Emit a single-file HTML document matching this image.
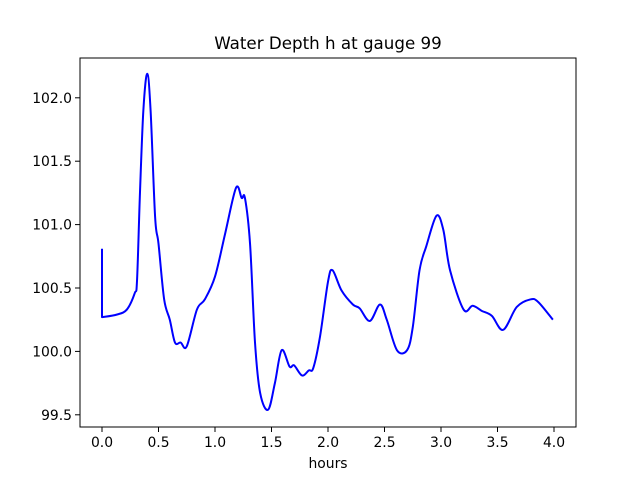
<!DOCTYPE html>
<html><head><meta charset="utf-8"><style>
body{margin:0;background:#fff;}
svg{display:block;font-family:"DejaVu Sans","Liberation Sans",sans-serif;}
</style></head><body>
<svg id="chart" width="640" height="480">
<rect width="640" height="480" fill="#fff"/>
<text x="328" y="49" font-size="16.7" text-anchor="middle">Water Depth h at gauge 99</text>
<g id="axes"></g>
<text x="328" y="468" font-size="13.9" text-anchor="middle">hours</text>
</svg>
<script>
const hours=[0,0,0.13,0.22,0.29,0.31,0.336,0.366,0.40,0.43,0.47,0.50,0.55,0.60,0.646,0.696,0.75,0.84,0.91,1.0,1.09,1.186,1.236,1.265,1.31,1.354,1.40,1.47,1.53,1.59,1.66,1.70,1.77,1.83,1.87,1.93,2.0,2.04,2.12,2.22,2.28,2.37,2.46,2.52,2.61,2.70,2.75,2.81,2.87,2.96,3.02,3.08,3.20,3.28,3.36,3.45,3.55,3.67,3.79,3.86,3.99];
const depth=[100.81,100.27,100.29,100.33,100.46,100.56,101.25,101.9,102.19,101.9,101.06,100.85,100.41,100.25,100.07,100.07,100.04,100.33,100.41,100.59,100.93,101.29,101.21,101.21,100.85,100.07,99.67,99.54,99.75,100.01,99.88,99.89,99.81,99.85,99.87,100.12,100.55,100.64,100.48,100.37,100.34,100.24,100.37,100.25,100.01,100.01,100.19,100.64,100.83,101.07,100.96,100.64,100.33,100.36,100.32,100.28,100.17,100.35,100.41,100.39,100.25];
const xTicks=[0,0.5,1,1.5,2,2.5,3,3.5,4];
const xTickLabels=["0.0","0.5","1.0","1.5","2.0","2.5","3.0","3.5","4.0"];
const yTicks=[99.5,100,100.5,101,101.5,102];
const yTickLabels=["99.5","100.0","100.5","101.0","101.5","102.0"];
const L=80,R=576,T=58,B=427;
const xs=v=>102+v*113;
const ys=v=>351.4-(v-100)*126.8;
const NS="http://www.w3.org/2000/svg";
const g=document.getElementById('axes');
function mk(tag,at){const e=document.createElementNS(NS,tag);for(const k in at)e.setAttribute(k,at[k]);g.appendChild(e);return e;}
// line
let pts=hours.map((h,i)=>[xs(h),ys(depth[i])]);
let d="M"+pts[0][0]+","+pts[0][1]+" L"+pts[1][0]+","+pts[1][1];
for(let i=1;i<pts.length-1;i++){
 const p0=pts[Math.max(1,i-1)],p1=pts[i],p2=pts[i+1],p3=pts[Math.min(pts.length-1,i+2)];
 const c1=[p1[0]+(p2[0]-p0[0])/6,p1[1]+(p2[1]-p0[1])/6];
 const c2=[p2[0]-(p3[0]-p1[0])/6,p2[1]-(p3[1]-p1[1])/6];
 d+=" C"+c1[0]+","+c1[1]+" "+c2[0]+","+c2[1]+" "+p2[0]+","+p2[1];
}
const line=mk('path',{d:d,fill:'none',stroke:'#0000ff','stroke-width':2,'stroke-linejoin':'round'});


const frame=mk('rect',{x:L,y:T,width:R-L,height:B-T,fill:'none',stroke:'#000','stroke-width':1});


xTicks.forEach((v,i)=>{
 const x=xs(v);
 const t=mk('line',{x1:x,x2:x,y1:B,y2:B+5,stroke:'#000'});
 
 
 const tx=mk('text',{x:x,y:B+20,'font-size':13.9,'text-anchor':'middle'});
 tx.textContent=xTickLabels[i];
 
 
});
yTicks.forEach((v,i)=>{
 const y=ys(v);
 const t=mk('line',{x1:L-5,x2:L,y1:y,y2:y,stroke:'#000'});
 
 
 const tx=mk('text',{x:L-8,y:y+5,'font-size':13.9,'text-anchor':'end'});
 tx.textContent=yTickLabels[i];
 
 
});
</script>
</body></html>
